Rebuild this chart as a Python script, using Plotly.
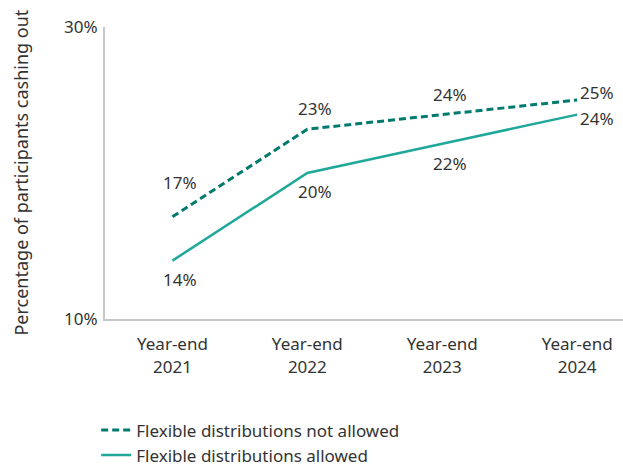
import plotly.graph_objects as go

years = ["Year-end<br>2021", "Year-end<br>2022", "Year-end<br>2023", "Year-end<br>2024"]
not_allowed = [17, 23, 24, 25]
allowed = [14, 20, 22, 24]
y_ticks = [10, 30]
y_tick_text = ["10%", "30%"]

dark_teal = "#007a6d"
light_teal = "#1fa89a"
text_color = "#333333"
font_family = "'Noto Sans', 'Open Sans', sans-serif"
fs = 17

xs = list(range(len(years)))

fig = go.Figure()
fig.add_trace(go.Scatter(
    x=xs, y=not_allowed, mode="lines", name="Flexible distributions not allowed",
    line=dict(color=dark_teal, width=3, dash="7px,4px"),
))
fig.add_trace(go.Scatter(
    x=xs, y=allowed, mode="lines", name="Flexible distributions allowed",
    line=dict(color=light_teal, width=2.5),
))

# value labels: dashed series above its points, solid below; last year to the right
above_shift = [34, 21, 20, 8]
below_shift = [-19, -18, -20, -4]
for i, v in enumerate(not_allowed):
    last = i == len(xs) - 1
    fig.add_annotation(
        x=xs[i], y=v, text=f"{v}%", showarrow=False,
        xanchor="left" if last else "center", xshift=1 if last else 8,
        yshift=above_shift[i],
        font=dict(size=fs, color=text_color, family=font_family),
    )
for i, v in enumerate(allowed):
    last = i == len(xs) - 1
    fig.add_annotation(
        x=xs[i], y=v, text=f"{v}%", showarrow=False,
        xanchor="left" if last else "center", xshift=1 if last else 8,
        yshift=below_shift[i],
        font=dict(size=fs, color=text_color, family=font_family),
    )

# vertical axis title
fig.add_annotation(
    xref="paper", yref="paper", x=-0.163, y=0.5,
    text="Percentage of participants cashing out", textangle=-90,
    showarrow=False, xanchor="center", yanchor="middle",
    font=dict(size=18, color=text_color, family=font_family),
)

fig.update_layout(
    width=623, height=466,
    margin=dict(l=105, r=0, t=27, b=147, autoexpand=False),
    paper_bgcolor="white", plot_bgcolor="white",
    font=dict(family=font_family, size=fs, color=text_color),
    showlegend=True,
    legend=dict(
        x=-0.017, y=-0.32, xanchor="left", yanchor="top",
        font=dict(size=fs, color=text_color),
        itemwidth=30, tracegroupgap=0,
    ),
    xaxis=dict(
        tickmode="array", tickvals=xs, ticktext=years,
        range=[-0.5, 3.34], showgrid=False, zeroline=False,
        showline=True, linecolor="#c8c8c8", linewidth=2,
        ticks="", ticklabelstandoff=9, tickfont=dict(size=fs, color=text_color),
    ),
    yaxis=dict(
        range=[10, 30], tickmode="array", tickvals=y_ticks, ticktext=y_tick_text,
        showgrid=False, zeroline=False,
        showline=True, linecolor="#c8c8c8", linewidth=2,
        ticks="", ticklabelstandoff=2, tickfont=dict(size=fs, color=text_color),
    ),
)

fig.write_html("out.html")
